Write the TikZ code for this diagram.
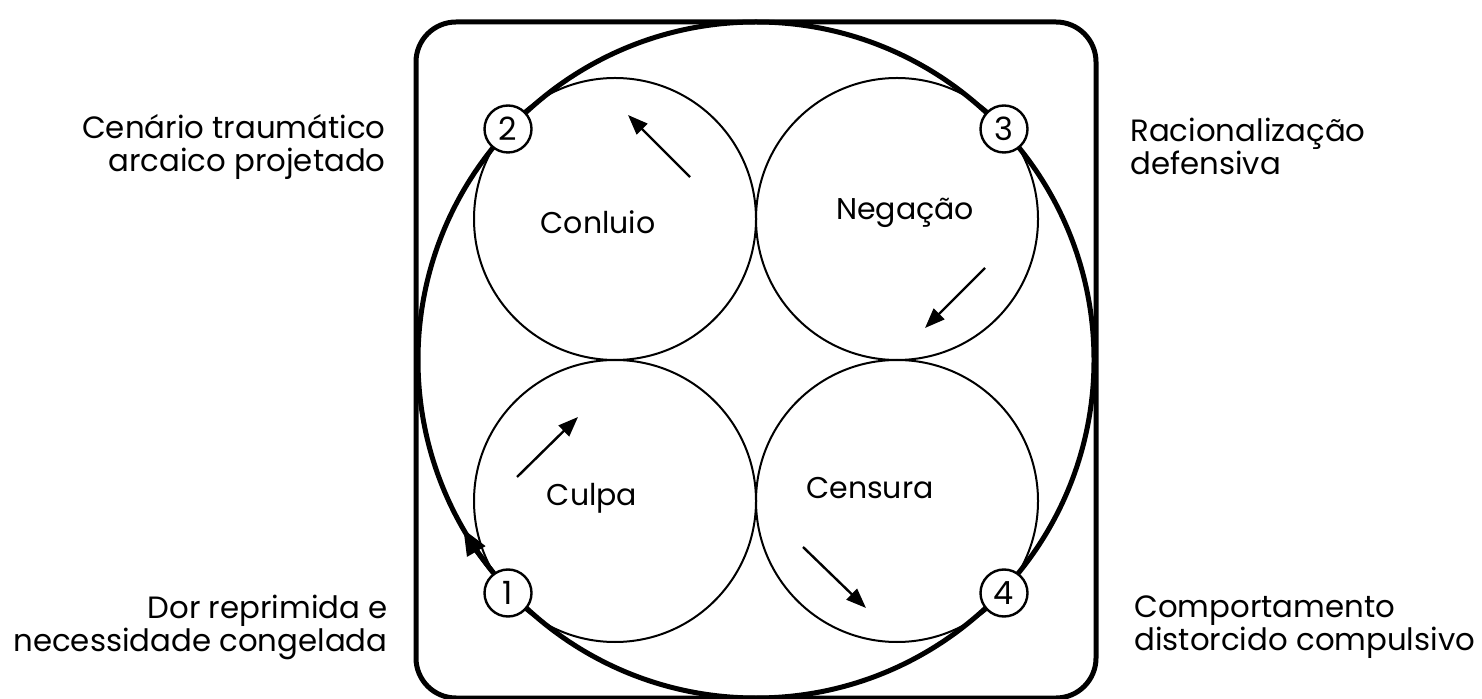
\documentclass[tikz,border=0pt]{standalone}
\usepackage{fontspec}
\setmainfont{Poppins}
\usetikzlibrary{arrows.meta,calc}
\begin{document}
\begin{tikzpicture}[x=0.5pt,y=-0.5pt,
  heavy/.style={draw,line width=2.5pt},
  loopcircle/.style={draw,circle,line width=1pt,minimum size=141pt,inner sep=0pt},
  stage/.style={draw,circle,fill=white,line width=1.2pt,minimum size=23.5pt,inner sep=0pt,font=\fontsize{16}{17}\selectfont},
  lbl/.style={font=\fontsize{15.4}{16.5}\selectfont,inner sep=0pt},
  inlbl/.style={font=\fontsize{15}{16.5}\selectfont,inner sep=0pt},
  flow/.style={line width=1.2pt,-{Triangle[length=10pt,width=7.5pt]}},
  cycle/.style={line width=2.5pt,-{Triangle[length=13pt,width=10pt]}}
]
\useasboundingbox (0,0) rectangle (1482,699);

% outer frame and the main cycle
\node[heavy,rounded corners=20pt,minimum width=340pt,minimum height=338pt,inner sep=0pt] (frame) at (756,360) {};
\node[heavy,circle,minimum size=338pt,inner sep=0pt] (ring) at (756,360) {};

% the four inner circles
\node[loopcircle] (conluio) at (615,219) {};
\node[loopcircle] (negacao) at (897,219) {};
\node[loopcircle] (culpa)   at (615,501) {};
\node[loopcircle] (censura) at (897,501) {};

\node[inlbl] (tconluio) at (598,222) {Conluio};
\node[inlbl] (tnegacao) at (905,213) {Negação};
\node[inlbl] (tculpa)   at (592,498) {Culpa};
\node[inlbl] (tcensura) at (870,488) {Censura};

% arrow on the main ring, leaving stage 1
\coordinate (ringA) at ($(ring.center)+(219:169pt)$);
\draw[cycle] (ringA) arc[start angle=219, end angle=210, radius=169pt];

% stage markers
\node[stage] (s2) at (508,129) {2};
\node[stage] (s3) at (1004,129) {3};
\node[stage] (s1) at (508,593) {1};
\node[stage] (s4) at (1004,593) {4};

% direction arrows inside the circles
\coordinate (c1a) at (690,177); \coordinate (c1b) at (628,115);
\coordinate (n1a) at (985,268); \coordinate (n1b) at (925,328);
\coordinate (u1a) at (517,477); \coordinate (u1b) at (578,417);
\coordinate (e1a) at (803,547); \coordinate (e1b) at (866,608);
\draw[flow] (c1a) -- (c1b);
\draw[flow] (n1a) -- (n1b);
\draw[flow] (u1a) -- (u1b);
\draw[flow] (e1a) -- (e1b);

% side descriptions
\node[lbl,align=right,anchor=east] (d2) at (386,147) {Cenário traumático\\arcaico projetado};
\node[lbl,align=left,anchor=west]  (d3) at (1130,146) {Racionalização\\defensiva};
\node[lbl,align=right,anchor=east] (d1) at (388,627) {Dor reprimida e\\necessidade congelada};
\node[lbl,align=left,anchor=west]  (d4) at (1134,627) {Comportamento\\distorcido compulsivo};
\end{tikzpicture}
\end{document}
